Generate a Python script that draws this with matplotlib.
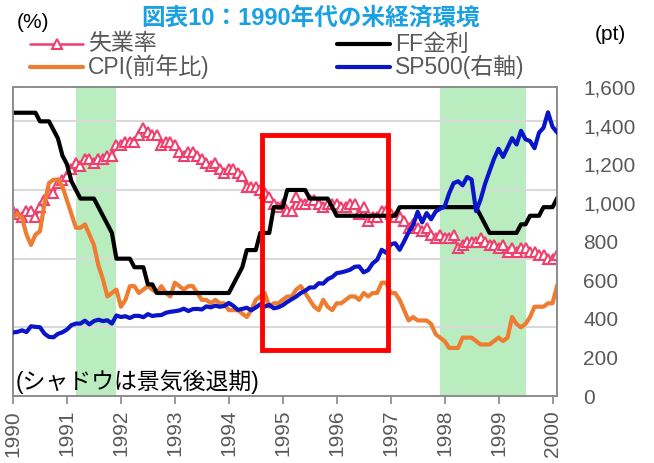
import matplotlib
matplotlib.use("Agg")
import numpy as np
import matplotlib.pyplot as plt
from matplotlib.lines import Line2D
from matplotlib.patches import Rectangle
from matplotlib.ticker import FuncFormatter

plt.rcParams['font.family'] = ['Liberation Sans', 'Noto Sans CJK JP']

# 月次データ 1990年1月〜2000年2月
unemp = [5.4, 5.3, 5.2, 5.4, 5.4, 5.2, 5.5, 5.7, 5.9, 5.9, 6.2, 6.3,
         6.4, 6.6, 6.8, 6.7, 6.9, 6.9, 6.8, 6.9, 6.9, 7.0, 7.0, 7.3,
         7.3, 7.4, 7.4, 7.4, 7.6, 7.8, 7.7, 7.6, 7.6, 7.3, 7.4, 7.4,
         7.3, 7.1, 7.0, 7.1, 7.1, 7.0, 6.9, 6.8, 6.7, 6.8, 6.6, 6.5,
         6.6, 6.6, 6.5, 6.4, 6.1, 6.1, 6.1, 6.0, 5.9, 5.8, 5.6, 5.5,
         5.6, 5.4, 5.4, 5.8, 5.6, 5.6, 5.7, 5.7, 5.6, 5.5, 5.6, 5.6,
         5.6, 5.5, 5.5, 5.6, 5.6, 5.3, 5.5, 5.1, 5.2, 5.2, 5.4, 5.4,
         5.3, 5.2, 5.2, 5.1, 4.9, 5.0, 4.9, 4.8, 4.9, 4.7, 4.6, 4.7,
         4.6, 4.6, 4.7, 4.3, 4.4, 4.5, 4.5, 4.5, 4.6, 4.5, 4.4, 4.4,
         4.3, 4.4, 4.2, 4.3, 4.2, 4.3, 4.3, 4.2, 4.2, 4.1, 4.1, 4.0,
         4.0, 4.1]
cpi = [5.2, 5.3, 5.2, 4.7, 4.4, 4.7, 4.8, 5.6, 6.2, 6.3, 6.3, 6.1,
       5.7, 5.3, 4.9, 4.9, 5.0, 4.7, 4.4, 3.8, 3.4, 2.9, 3.0, 3.1,
       2.6, 2.8, 3.2, 3.2, 3.0, 3.1, 3.2, 3.1, 3.0, 3.2, 3.0, 2.9,
       3.3, 3.2, 3.1, 3.2, 3.2, 3.0, 2.8, 2.8, 2.7, 2.8, 2.7, 2.7,
       2.5, 2.5, 2.5, 2.4, 2.3, 2.5, 2.8, 2.9, 3.0, 2.6, 2.7, 2.7,
       2.8, 2.9, 2.9, 3.1, 3.2, 3.0, 2.8, 2.6, 2.5, 2.8, 2.6, 2.5,
       2.7, 2.7, 2.8, 2.9, 2.9, 2.8, 3.0, 2.9, 3.0, 3.0, 3.3, 3.3,
       3.0, 3.0, 2.8, 2.5, 2.2, 2.3, 2.2, 2.2, 2.2, 2.1, 1.8, 1.7,
       1.6, 1.4, 1.4, 1.4, 1.7, 1.7, 1.7, 1.6, 1.5, 1.5, 1.5, 1.6,
       1.7, 1.6, 1.7, 2.3, 2.1, 2.0, 2.1, 2.3, 2.6, 2.6, 2.6, 2.7,
       2.7, 3.2]
ff = [8.25, 8.25, 8.25, 8.25, 8.25, 8.25, 8.0, 8.0, 8.0, 7.75, 7.5, 7.0,
      6.75, 6.25, 6.0, 5.75, 5.75, 5.75, 5.75, 5.5, 5.25, 5.0, 4.75, 4.0,
      4.0, 4.0, 4.0, 3.75, 3.75, 3.75, 3.25, 3.25, 3.0, 3.0, 3.0, 3.0,
      3.0, 3.0, 3.0, 3.0, 3.0, 3.0, 3.0, 3.0, 3.0, 3.0, 3.0, 3.0,
      3.0, 3.25, 3.5, 3.75, 4.25, 4.25, 4.25, 4.75, 4.75, 4.75, 5.5, 5.5,
      5.5, 6.0, 6.0, 6.0, 6.0, 6.0, 5.75, 5.75, 5.75, 5.75, 5.75, 5.5,
      5.25, 5.25, 5.25, 5.25, 5.25, 5.25, 5.25, 5.25, 5.25, 5.25, 5.25, 5.25,
      5.25, 5.25, 5.5, 5.5, 5.5, 5.5, 5.5, 5.5, 5.5, 5.5, 5.5, 5.5,
      5.5, 5.5, 5.5, 5.5, 5.5, 5.5, 5.5, 5.5, 5.25, 5.0, 4.75, 4.75,
      4.75, 4.75, 4.75, 4.75, 4.75, 5.0, 5.0, 5.25, 5.25, 5.25, 5.5, 5.5,
      5.5, 5.75]
sp500 = [329, 332, 340, 331, 361, 358, 356, 323, 306, 304, 322, 330,
         344, 367, 375, 375, 390, 371, 388, 395, 388, 392, 375, 417,
         409, 413, 404, 415, 415, 408, 424, 414, 418, 419, 431, 436,
         439, 443, 452, 440, 450, 451, 448, 464, 459, 468, 462, 466,
         482, 467, 446, 451, 457, 444, 458, 475, 463, 472, 454, 459,
         470, 487, 501, 515, 533, 545, 562, 562, 584, 582, 605, 616,
         636, 640, 646, 654, 669, 671, 640, 652, 687, 705, 757, 741,
         786, 791, 757, 801, 848, 885, 954, 899, 947, 915, 955, 970,
         980, 1049, 1102, 1112, 1091, 1134, 1121, 957, 1017, 1099, 1164, 1229,
         1280, 1238, 1286, 1335, 1302, 1373, 1329, 1320, 1283, 1363, 1389, 1469,
         1394, 1366]
t = 1990 + np.arange(len(unemp)) / 12

recessions = [(1991.17, 1991.91), (1997.92, 1999.5)]
years = list(range(1990, 2001))

gray = '#595959'
W, H = 654, 463
fig = plt.figure(figsize=(W / 100, H / 100), dpi=100)
ax = fig.add_axes([13 / W, 67 / H, 544 / W, 309 / H])
ax2 = ax.twinx()

for a, b in recessions:
    ax.axvspan(a, b, color='#b9edc0', lw=0, zorder=0)
ax.grid(axis='y', color='#d9d9d9', lw=1.5, zorder=0.5)
ax.set_axisbelow(True)

styles = {
    '失業率': dict(color='#ef3f6d', lw=1.8, marker='^', ms=6.5, mfc='white',
                 mec='#ef3f6d', mew=1.5),
    'CPI(前年比)': dict(color='#ee7d31', lw=3),
    'FF金利': dict(color='black', lw=3),
    'SP500(右軸)': dict(color='#0a14c8', lw=3),
}
ax.plot(t, unemp, zorder=2, **styles['失業率'])
ax.plot(t, cpi, zorder=3, **styles['CPI(前年比)'])
ax.plot(t, ff, zorder=4, **styles['FF金利'])
ax2.plot(t, sp500, zorder=5, **styles['SP500(右軸)'])

ax.set_xlim(1990, 2000 + 1 / 12)
ax.set_ylim(0, 9)
ax.set_yticks([0, 2, 4, 6, 8])
ax.tick_params(axis='y', left=False, labelleft=False)
ax.set_xticks(years)
ax.set_xticklabels([str(y) for y in years], rotation=90, fontsize=15, color=gray)
ax.tick_params(axis='x', length=6, color='#888888', width=1.2, pad=4)

ax2.set_ylim(0, 1600)
ax2.set_yticks(range(0, 1601, 200))
ax2.yaxis.set_major_formatter(FuncFormatter(lambda v, p: f'{int(v):,}'))
ax2.tick_params(axis='y', length=0, pad=19, labelsize=15, labelcolor=gray)

for a in (ax, ax2):
    for s in a.spines.values():
        s.set_color('#8c8c8c')
        s.set_linewidth(1.2)

# 赤枠
ax2.add_patch(Rectangle((1994.61, 1.34 / 9 * 1600), 2.35, 6.25 / 9 * 1600,
                        fill=False, ec='#ff0000', lw=3.5, zorder=10))

ax.text(0.005, 0.045, '(シャドウは景気後退期)', transform=ax.transAxes,
        fontsize=16.5, color='black', va='center', ha='left')

fig.text(0.475, 1 - 18 / H, '図表10：1990年代の米経済環境', fontsize=17, fontweight='bold',
         color='#1ba1e2', ha='center', va='center')
fig.text(17 / W, 1 - 22 / H, '(%)', fontsize=15, color='black', ha='left', va='center')
fig.text(595 / W, 1 - 34 / H, '(pt)', fontsize=15, color='black', ha='left', va='center')

# 凡例（手描き）
entries = [('失業率', 30, 44), ('CPI(前年比)', 30, 67),
           ('FF金利', 337, 44), ('SP500(右軸)', 337, 67)]
for label, x0, y0 in entries:
    st = dict(styles[label])
    marker = st.pop('marker', None)
    ms = st.pop('ms', None)
    mfc = st.pop('mfc', None)
    mec = st.pop('mec', None)
    mew = st.pop('mew', None)
    yy = 1 - y0 / H
    fig.add_artist(Line2D([x0 / W, (x0 + 53) / W], [yy, yy], transform=fig.transFigure,
                          solid_capstyle='round', **st))
    if marker:
        fig.add_artist(Line2D([(x0 + 27) / W], [yy], transform=fig.transFigure,
                              marker=marker, ms=ms, mfc=mfc, mec=mec, mew=mew, lw=0))
    fig.text((x0 + 58) / W, yy, label, fontsize=16.5, color=gray, ha='left', va='center')

fig.savefig('out.png', dpi=100)
